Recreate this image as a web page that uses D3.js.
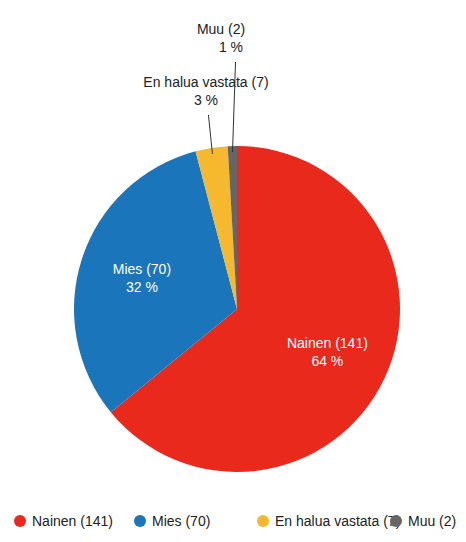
<!DOCTYPE html>
<html><head><meta charset="utf-8">
<script src="https://cdn.jsdelivr.net/npm/d3@7"></script>
<style>body{margin:0;background:#fff;font-family:"Liberation Sans",Arial,sans-serif}</style>
</head><body>
<div id="chart"></div>
<script>
const labels = ['Nainen', 'Mies', 'En halua vastata', 'Muu'];
const counts = [141, 70, 7, 2];
const colors = ['#e8291c', '#1a75bb', '#f5b82e', '#666666'];

const width = 466, height = 542;
const cx = 237, cy = 309, r = 163;
const total = d3.sum(counts);
const data = labels.map((l, i) => ({ label: l, value: counts[i], color: colors[i] }));

const svg = d3.select('#chart').append('svg').attr('width', width).attr('height', height);
const g = svg.append('g').attr('transform', `translate(${cx},${cy})`);

const pie = d3.pie().sort(null).value(d => d.value);
const arc = d3.arc().innerRadius(0).outerRadius(r);
const arcs = pie(data);

g.selectAll('path').data(arcs).enter().append('path')
    .attr('d', arc).attr('fill', d => d.data.color);

const pct = d => Math.round(d.data.value / total * 100) + ' %';
const mid = d => (d.startAngle + d.endAngle) / 2;

// inside labels
arcs.slice(0, 2).forEach(d => {
    const a = mid(d), dist = 100;
    const x = Math.sin(a) * dist, y = -Math.cos(a) * dist;
    const t = g.append('text').attr('text-anchor', 'middle').attr('fill', '#fff').style('font-size', '14px');
    t.append('tspan').attr('x', x).attr('y', y - 4).text(`${d.data.label} (${d.data.value})`);
    t.append('tspan').attr('x', x).attr('y', y + 14).text(pct(d));
});

// outside labels with leader lines
const outY = [115 - cy, 62 - cy];
const outX = [206, 221];
arcs.slice(2).forEach((d, i) => {
    const a = mid(d);
    const x0 = Math.sin(a) * (r - 6), y0 = -Math.cos(a) * (r - 6);
    const x1 = Math.sin(a) * (r - 6) - (i === 0 ? 4 : -3), y1 = outY[i];
    g.append('line').attr('x1', x0).attr('y1', y0).attr('x2', x1).attr('y2', y1)
        .attr('stroke', '#333').attr('stroke-width', 1);
    const tx = outX[i] - cx;
    const t = g.append('text').attr('text-anchor', 'middle').attr('fill', '#222').style('font-size', '14px');
    t.append('tspan').attr('x', tx).attr('y', y1 - 28).text(`${d.data.label} (${d.data.value})`);
    t.append('tspan').attr('x', tx + (i === 1 ? 10 : 0)).attr('y', y1 - 10).text(pct(d));
});

// legend
const legX = [20, 140, 263, 396];
const leg = svg.append('g').selectAll('g').data(data).enter().append('g')
    .attr('transform', (d, i) => `translate(${legX[i]},521)`);
leg.append('circle').attr('r', 6).attr('fill', d => d.color);
leg.append('text').attr('x', 12).attr('y', 5).style('font-size', '14px').attr('fill', '#222')
    .text(d => `${d.label} (${d.value})`);
</script>
</body></html>
